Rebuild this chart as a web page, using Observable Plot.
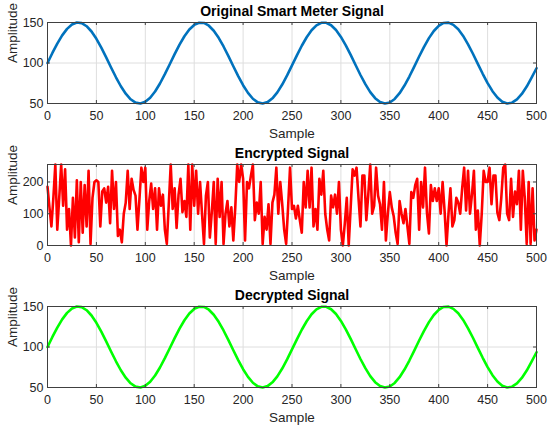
<!DOCTYPE html>
<html><head><meta charset="utf-8">
<script src="https://cdn.jsdelivr.net/npm/d3@7"></script>
<script src="https://cdn.jsdelivr.net/npm/@observablehq/plot@0.6"></script>
<style>body{margin:0;background:#fff;} #chart{width:550px;} svg{display:block;}</style>
</head><body><div id="chart"></div>
<script>
const panelTitles = ["Original Smart Meter Signal", "Encrypted Signal", "Decrypted Signal"];
const xLabel = "Sample";
const yLabel = "Amplitude";
const xTicks = [0, 50, 100, 150, 200, 250, 300, 350, 400, 450, 500];
const sineTicks = [50, 100, 150];
const encTicks = [0, 100, 200];

// original signal, read every 5 samples (0..500)
const originalStep = 5;
const originalSignal = [
100,112.4,124.0,134.1,142.1,147.5,149.9,149.2,145.4,138.9,129.9,119.0,107.0,94.5,82.4,71.3,62.1,55.2,51.1,50.0,52.1,57.1,64.8,74.7,86.2,
98.5,110.9,122.7,133.0,141.3,147.0,149.7,149.4,146.0,139.8,131.1,120.4,108.5,96.0,83.8,72.6,63.1,55.9,51.4,50.0,51.7,56.4,63.8,73.4,84.7,
97.0,109.4,121.3,131.8,140.4,146.4,149.6,149.6,146.6,140.7,132.2,121.8,110.0,97.5,85.2,73.9,64.1,56.6,51.8,50.0,51.3,55.6,62.7,72.2,83.3,
95.5,108.0,119.9,130.7,139.5,145.9,149.4,149.8,147.1,141.6,133.4,123.1,111.4,99.0,86.7,75.2,65.2,57.4,52.2,50.1,51.0,55.0,61.8,70.9,81.9,
93.5];

// encrypted signal, read every 2 samples (0..500)
const encryptedStep = 2;
const encryptedSignal = [
185,120,60,150,255,50,150,255,125,240,
50,115,0,150,25,205,10,200,40,190,
60,235,5,150,200,205,200,60,170,180,
135,185,70,235,115,200,30,50,10,100,
135,235,115,210,175,157,50,145,245,200,
245,50,140,195,115,180,50,180,125,160,
50,5,130,255,115,180,55,160,210,105,
140,90,255,50,255,125,235,100,200,100,
5,157,200,25,105,200,5,210,90,200,
5,100,140,60,120,16,120,255,200,255,
210,16,200,180,220,255,80,135,100,200,
5,90,50,130,5,135,160,245,100,200,
130,50,5,120,245,115,125,85,125,80,
40,200,120,235,120,245,60,115,50,210,
160,235,100,50,16,157,120,160,100,200,
50,0,70,150,0,120,240,220,245,150,
60,220,220,80,160,255,100,125,245,157,
130,50,200,16,100,168,120,92,40,5,
140,100,70,115,60,5,168,150,190,210,
50,200,120,245,103,38,190,140,180,140,
180,100,200,110,0,100,180,60,80,150,
135,100,180,245,110,235,100,160,235,50,
110,0,100,235,200,200,245,130,220,220,
103,80,150,245,255,100,80,210,90,170,
130,235,50,235,150,5,200,5,180,16,
50];

// decrypted signal, read every 5 samples (0..500)
const decryptedStep = 5;
const decryptedSignal = [
100,112.4,124.0,134.1,142.1,147.5,149.9,149.2,145.4,138.9,129.9,119.0,107.0,94.5,82.4,71.3,62.1,55.2,51.1,50.0,52.1,57.1,64.8,74.7,86.2,
98.5,110.9,122.7,133.0,141.3,147.0,149.7,149.4,146.0,139.8,131.1,120.4,108.5,96.0,83.8,72.6,63.1,55.9,51.4,50.0,51.7,56.4,63.8,73.4,84.7,
97.0,109.4,121.3,131.8,140.4,146.4,149.6,149.6,146.6,140.7,132.2,121.8,110.0,97.5,85.2,73.9,64.1,56.6,51.8,50.0,51.3,55.6,62.7,72.2,83.3,
95.5,108.0,119.9,130.7,139.5,145.9,149.4,149.8,147.1,141.6,133.4,123.1,111.4,99.0,86.7,75.2,65.2,57.4,52.2,50.1,51.0,55.0,61.8,70.9,81.9,
93.5];

const FONT = "'Liberation Sans', Arial, Helvetica, sans-serif";
const AX = "#404040";

function panel({title, data, step, color, yDomain, yTicks}) {
  const rows = data.map((v, i) => ({sample: i * step, value: v}));
  const W = 550, H = 142, mt = 22, mb = 39, ml = 47, mr = 14;
  const innerH = H - mt - mb, innerW = W - ml - mr;
  return Plot.plot({
    width: W, height: H, marginTop: mt, marginBottom: mb, marginLeft: ml, marginRight: mr,
    style: {fontFamily: FONT, fontSize: "12.5px", background: "white", color: "#262626", overflow: "visible"},
    x: {domain: [0, 500]},
    y: {domain: yDomain},
    marks: [
      Plot.gridX(xTicks, {stroke: "#dedede", strokeOpacity: 1}),
      Plot.gridY(yTicks, {stroke: "#dedede", strokeOpacity: 1}),
      Plot.line(rows, {x: "sample", y: "value", stroke: color, strokeWidth: 2.6}),
      Plot.frame({stroke: AX}),
      Plot.tickX(xTicks, {x: d => d, insetTop: innerH - 3, stroke: AX}),
      Plot.tickX(xTicks, {x: d => d, insetBottom: innerH - 3, stroke: AX}),
      Plot.tickY(yTicks, {y: d => d, insetRight: innerW - 3, stroke: AX}),
      Plot.tickY(yTicks, {y: d => d, insetLeft: innerW - 3, stroke: AX}),
      Plot.axisX(xTicks, {tickSize: 0, tickPadding: 8, label: null, color: "#262626"}),
      Plot.axisY(yTicks, {tickSize: 0, tickPadding: 4, label: null, color: "#262626"}),
      Plot.text([title], {frameAnchor: "top", lineAnchor: "middle", dy: -11, text: d => d, fontWeight: "bold", fontSize: 14, fill: "#000"}),
      Plot.text([xLabel], {frameAnchor: "bottom", lineAnchor: "middle", dy: 30, text: d => d, fontSize: 13.5, fill: "#262626"}),
      Plot.text([yLabel], {frameAnchor: "left", lineAnchor: "middle", dx: -35, rotate: -90, text: d => d, fontSize: 13.5, fill: "#262626"})
    ]
  });
}

const chart = document.getElementById("chart");
chart.append(panel({title: panelTitles[0], data: originalSignal, step: originalStep, color: "#0072BD", yDomain: [50, 150], yTicks: sineTicks}));
chart.append(panel({title: panelTitles[1], data: encryptedSignal, step: encryptedStep, color: "#FF0000", yDomain: [0, 255], yTicks: encTicks}));
chart.append(panel({title: panelTitles[2], data: decryptedSignal, step: decryptedStep, color: "#00FF00", yDomain: [50, 150], yTicks: sineTicks}));
</script>
</body></html>
